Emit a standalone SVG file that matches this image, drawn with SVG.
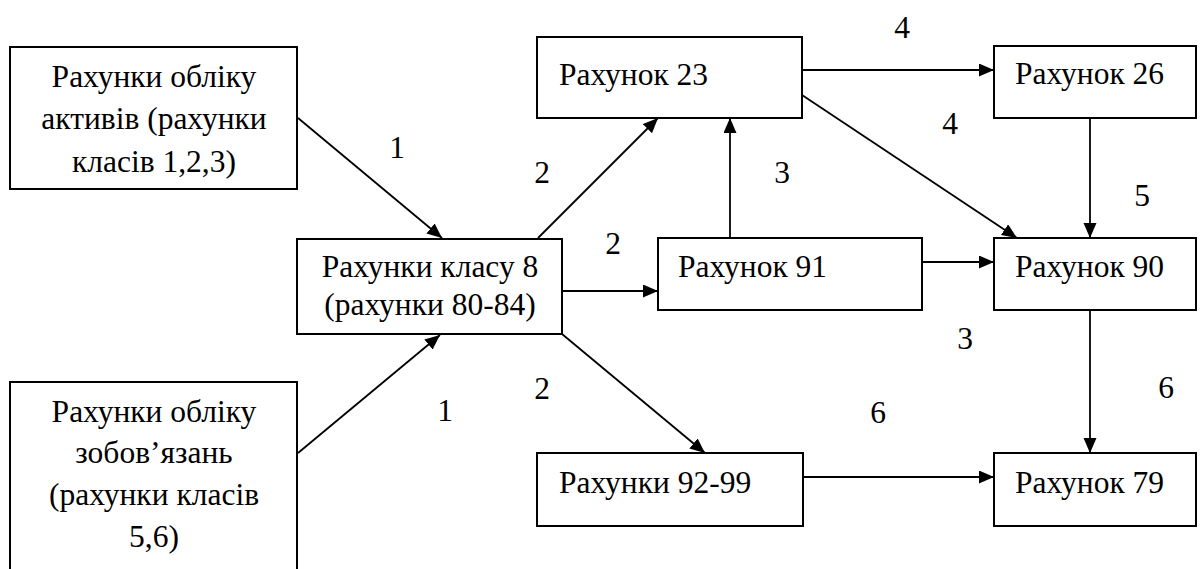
<svg xmlns="http://www.w3.org/2000/svg" width="1202" height="569" viewBox="0 0 1202 569">
<defs>
<marker id="ah" markerUnits="userSpaceOnUse" markerWidth="16" markerHeight="14" refX="15" refY="6.5" orient="auto">
<path d="M0,0 L15,6.5 L0,13 z" fill="#000"/>
</marker>
</defs>
<style>
.box{fill:#fff;stroke:#000;stroke-width:2}
text{font-family:'Liberation Serif','Times New Roman',serif;font-size:31.5px;fill:#000}
.c{text-anchor:middle}
.cn{stroke:#000;stroke-width:1.8;fill:none;marker-end:url(#ah)}
</style>
<rect width="1202" height="569" fill="#fff"/>
<g id="connectors">
<line class="cn" x1="298" y1="118" x2="442" y2="238"/>
<line class="cn" x1="298" y1="453" x2="440" y2="335"/>
<line class="cn" x1="538" y1="238" x2="658" y2="118"/>
<line class="cn" x1="562" y1="291" x2="658" y2="291"/>
<line class="cn" x1="562" y1="334" x2="705" y2="453"/>
<line class="cn" x1="730" y1="238" x2="730" y2="118"/>
<line class="cn" x1="802" y1="70" x2="994" y2="70"/>
<line class="cn" x1="802" y1="95" x2="1017" y2="238"/>
<line class="cn" x1="922" y1="262" x2="994" y2="262"/>
<line class="cn" x1="1090" y1="118" x2="1090" y2="238"/>
<line class="cn" x1="1090" y1="310" x2="1090" y2="453"/>
<line class="cn" x1="803" y1="477" x2="994" y2="477"/>
</g>
<g id="labels">
<text class="c" x="397" y="158">1</text>
<text class="c" x="542" y="183">2</text>
<text class="c" x="613" y="254">2</text>
<text class="c" x="782" y="183">3</text>
<text class="c" x="902" y="38">4</text>
<text class="c" x="950" y="134">4</text>
<text class="c" x="1142" y="206">5</text>
<text class="c" x="965" y="349">3</text>
<text class="c" x="1166" y="398">6</text>
<text class="c" x="878" y="423">6</text>
<text class="c" x="445" y="421">1</text>
<text class="c" x="542" y="399">2</text>
</g>
<g id="n-assets">
<rect class="box" x="10" y="47" width="287" height="142"/>
<text class="c" x="154" y="87">Рахунки обліку</text>
<text class="c" x="154" y="129">активів (рахунки</text>
<text class="c" x="154" y="172">класів 1,2,3)</text>
</g>
<g id="n-liab">
<rect class="box" x="10" y="382" width="287" height="200"/>
<text class="c" x="154" y="422">Рахунки обліку</text>
<text class="c" x="154" y="463">зобов’язань</text>
<text class="c" x="154" y="505">(рахунки класів</text>
<text class="c" x="154" y="547">5,6)</text>
</g>
<g id="n-class8">
<rect class="box" x="297" y="239" width="265" height="95"/>
<text class="c" x="430" y="277">Рахунки класу 8</text>
<text class="c" x="430" y="315">(рахунки 80-84)</text>
</g>
<g id="n-23">
<rect class="box" x="537" y="37" width="265" height="81"/>
<text x="559" y="85">Рахунок 23</text>
</g>
<g id="n-26">
<rect class="box" x="994" y="46" width="202" height="72"/>
<text x="1015" y="84">Рахунок 26</text>
</g>
<g id="n-91">
<rect class="box" x="658" y="238" width="264" height="72"/>
<text x="678" y="277">Рахунок 91</text>
</g>
<g id="n-90">
<rect class="box" x="994" y="238" width="202" height="72"/>
<text x="1015" y="277">Рахунок 90</text>
</g>
<g id="n-92-99">
<rect class="box" x="537" y="453" width="266" height="73"/>
<text x="559" y="493">Рахунки 92-99</text>
</g>
<g id="n-79">
<rect class="box" x="994" y="453" width="202" height="73"/>
<text x="1015" y="493">Рахунок 79</text>
</g>
</svg>
